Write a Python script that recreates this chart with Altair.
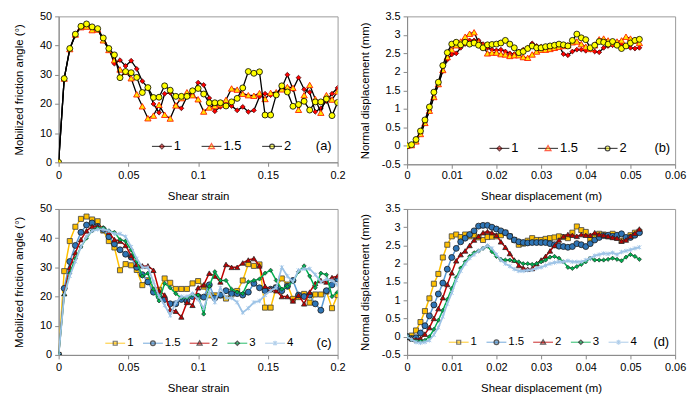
import altair as alt
import pandas as pd

# ---------------- data ----------------
STRAIN = [0.000, 0.004, 0.008, 0.012, 0.016, 0.020, 0.024, 0.028, 0.032, 0.036,
          0.040, 0.044, 0.048, 0.052, 0.056, 0.060, 0.064, 0.068, 0.072, 0.076,
          0.080, 0.084, 0.088, 0.092, 0.096, 0.100, 0.104, 0.108, 0.112, 0.116,
          0.120, 0.124, 0.128, 0.132, 0.136, 0.140, 0.144, 0.148, 0.152, 0.156,
          0.160, 0.164, 0.168, 0.172, 0.176, 0.180, 0.184, 0.188, 0.192, 0.196,
          0.200, 0.204, 0.208]
DISP = [0.000, 0.001, 0.002, 0.003, 0.004, 0.005, 0.006, 0.007, 0.008, 0.009,
        0.010, 0.011, 0.012, 0.013, 0.014, 0.015, 0.016, 0.017, 0.018, 0.019,
        0.020, 0.021, 0.022, 0.023, 0.024, 0.025, 0.026, 0.027, 0.028, 0.029,
        0.030, 0.031, 0.032, 0.033, 0.034, 0.035, 0.036, 0.037, 0.038, 0.039,
        0.040, 0.041, 0.042, 0.043, 0.044, 0.045, 0.046, 0.047, 0.048, 0.049,
        0.050, 0.051, 0.052]

NAMES_AB = ["1", "1.5", "2"]
NAMES_CD = ["1", "1.5", "2", "3", "4"]

# (a) mobilized friction angle
A_1 = [0, 28.7, 38.8, 43.5, 46.5, 47.0, 46.3, 45.5, 42.0, 39.0,
       33.8, 35.0, 33.0, 34.8, 32.0, 27.8, 25.5, 20.0, 17.0, 23.5,
       23.8, 19.5, 18.5, 22.5, 23.0, 27.3, 26.5, 22.0, 17.5, 19.0,
       19.5, 19.3, 17.8, 19.0, 17.3, 17.8, 22.5, 23.5, 23.0, 23.5,
       25.5, 30.0, 25.0, 29.0, 25.0, 24.0, 17.3, 18.5, 21.0, 23.5,
       25.5, 26.0, 25.0]
A_15 = [0, 28.7, 38.8, 43.8, 46.3, 46.5, 45.3, 45.5, 41.8, 38.5,
        35.0, 31.8, 31.0, 28.8, 23.3, 19.2, 15.1, 16.0, 19.7, 16.3,
        15.0, 19.5, 22.0, 24.0, 23.0, 21.6, 17.4, 18.8, 19.3, 19.9,
        21.4, 25.3, 24.9, 23.5, 23.0, 22.8, 23.7, 21.7, 23.8, 24.0,
        25.0, 25.8, 25.5, 18.0, 23.0, 26.5, 21.7, 17.0, 23.0, 21.5,
        24.3, 23.0, 22.0]
A_2 = [0, 28.7, 39.0, 43.9, 46.6, 47.4, 46.4, 45.8, 42.6, 39.0,
       36.8, 29.0, 31.1, 30.7, 29.1, 23.9, 25.6, 22.2, 22.3, 26.2,
       24.7, 22.6, 22.6, 22.6, 24.5, 25.3, 23.4, 20.4, 20.4, 20.4,
       19.3, 20.7, 21.9, 25.5, 31.1, 30.5, 31.0, 16.2, 16.2, 23.1,
       26.2, 24.1, 19.2, 19.8, 20.9, 17.9, 20.7, 20.7, 21.7, 16.0,
       20.5, 22.0, 21.0]

# (b) normal displacement (mm)
B_1 = [0, 0.02, 0.12, 0.33, 0.62, 0.95, 1.32, 1.65, 2.02, 2.33,
       2.47, 2.50, 2.65, 2.75, 2.85, 2.85, 2.85, 2.75, 2.65, 2.60,
       2.58, 2.60, 2.55, 2.50, 2.48, 2.55, 2.60, 2.65, 2.77, 2.70,
       2.68, 2.65, 2.68, 2.70, 2.72, 2.48, 2.45, 2.55, 2.60, 2.60,
       2.57, 2.60, 2.55, 2.53, 2.65, 2.70, 2.72, 2.75, 2.73, 2.70,
       2.65, 2.63, 2.65]
B_15 = [0, 0.02, 0.12, 0.32, 0.62, 0.95, 1.32, 1.67, 2.05, 2.40,
        2.60, 2.72, 2.82, 2.95, 3.03, 3.07, 2.80, 2.70, 2.50, 2.52,
        2.52, 2.48, 2.47, 2.43, 2.45, 2.45, 2.40, 2.38, 2.47, 2.55,
        2.60, 2.60, 2.62, 2.65, 2.68, 2.70, 2.72, 2.80, 2.82, 2.75,
        2.68, 2.62, 2.72, 2.88, 2.90, 2.85, 2.78, 2.82, 2.85, 2.95,
        2.90, 2.85, 2.78]
B_2 = [0, 0.03, 0.17, 0.40, 0.70, 1.05, 1.45, 1.72, 2.17, 2.52,
       2.75, 2.80, 2.73, 2.80, 2.75, 2.78, 2.72, 2.65, 2.73, 2.74,
       2.75, 2.78, 2.85, 2.75, 2.65, 2.52, 2.55, 2.63, 2.70, 2.65,
       2.65, 2.68, 2.70, 2.72, 2.75, 2.73, 2.70, 2.85, 3.02, 2.92,
       2.87, 2.65, 2.72, 2.82, 2.80, 2.75, 2.82, 2.72, 2.63, 2.70,
       2.78, 2.85, 2.88]

# (c) mobilized friction angle
C_1 = A_2
C_15 = [0, 22.8, 32.0, 37.5, 42.0, 44.5, 45.2, 44.0, 43.0, 40.5,
        38.0, 36.0, 34.5, 33.5, 30.0, 27.5, 25.0, 21.5, 20.0, 19.0,
        17.5, 17.5, 19.0, 18.5, 20.0, 20.0, 19.8, 24.0, 19.5, 20.5,
        22.0, 21.0, 21.0, 20.5, 21.5, 24.5, 23.0, 22.0, 22.5, 23.0,
        22.0, 23.5, 25.5, 20.5, 20.0, 20.5, 17.5, 15.3, 22.0, 24.0,
        26.0, 27.0, 27.0]
C_2 = [0, 21.0, 30.0, 35.0, 39.5, 42.5, 44.0, 44.0, 43.5, 42.0,
       39.5, 39.0, 37.5, 34.0, 31.0, 30.5, 30.5, 29.0, 22.0, 20.5,
       15.5, 15.0, 13.0, 18.0, 17.0, 23.0, 24.0, 28.0, 27.0, 25.0,
       31.0, 30.0, 30.0, 31.5, 32.5, 33.0, 30.5, 23.5, 22.5, 22.0,
       20.0, 20.0, 18.5, 20.5, 17.5, 21.5, 24.5, 25.5, 25.0, 26.5,
       27.0, 28.0, 28.0]
C_3 = [0, 20.5, 28.0, 33.0, 37.0, 40.0, 42.5, 43.5, 43.5, 42.5,
       42.0, 39.5, 39.0, 36.0, 32.0, 27.0, 28.0, 22.5, 18.5, 24.5,
       23.0, 21.0, 19.5, 19.5, 20.5, 20.5, 14.0, 23.5, 28.5, 25.5,
       25.5, 22.5, 21.5, 21.0, 25.0, 25.5, 26.0, 28.0, 29.0, 25.5,
       22.5, 23.5, 25.0, 28.5, 30.5, 27.0, 23.0, 28.0, 27.5, 20.0,
       21.5, 22.0, 22.0]
C_4 = [0, 20.5, 27.0, 32.0, 37.0, 40.5, 42.5, 43.0, 43.0, 42.5,
       41.5, 41.5, 40.5, 37.0, 33.0, 30.0, 30.0, 25.0, 20.0, 17.0,
       13.5, 18.0, 20.0, 20.0, 21.0, 19.0, 16.0, 21.5, 18.0, 23.0,
       19.5, 19.5, 18.0, 14.5, 16.0, 18.0, 18.5, 20.5, 22.0, 23.0,
       30.0, 27.0, 25.0, 29.0, 29.5, 29.5, 27.5, 25.0, 26.0, 25.5,
       24.0, 25.0, 25.0]

# (d) normal displacement (mm)
D_1 = B_2
D_15 = [0, -0.05, -0.03, 0.10, 0.30, 0.57, 0.87, 1.17, 1.47, 1.85,
        2.17, 2.42, 2.60, 2.70, 2.80, 2.90, 3.03, 3.05, 3.05, 3.00,
        2.95, 2.90, 2.85, 2.75, 2.65, 2.60, 2.58, 2.57, 2.58, 2.58,
        2.58, 2.58, 2.55, 2.52, 2.48, 2.47, 2.45, 2.47, 2.55, 2.52,
        2.47, 2.55, 2.65, 2.72, 2.77, 2.78, 2.75, 2.78, 2.82, 2.72,
        2.72, 2.78, 2.85]
D_2 = [0, -0.05, -0.08, -0.05, 0.07, 0.25, 0.50, 0.77, 1.07, 1.43,
       1.75, 2.08, 2.25, 2.35, 2.50, 2.65, 2.75, 2.85, 2.88, 2.85,
       2.78, 2.60, 2.45, 2.28, 2.10, 1.95, 1.88, 1.85, 1.87, 2.00,
       2.10, 2.20, 2.35, 2.50, 2.65, 2.75, 2.80, 2.78, 2.75, 2.80,
       2.78, 2.78, 2.85, 2.80, 2.78, 2.75, 2.72, 2.70, 2.62, 2.65,
       2.75, 2.83, 2.95]
D_3 = [0, -0.08, -0.12, -0.12, -0.10, 0.00, 0.20, 0.45, 0.72, 1.02,
       1.32, 1.62, 1.88, 2.05, 2.20, 2.30, 2.35, 2.42, 2.48, 2.33,
       2.20, 2.12, 2.10, 2.10, 2.08, 2.05, 2.00, 2.00, 1.98, 2.00,
       2.05, 2.10, 2.18, 2.20, 2.15, 2.05, 1.90, 1.87, 1.92, 1.98,
       2.05, 2.15, 2.10, 2.10, 2.10, 2.12, 2.15, 2.12, 2.08, 2.18,
       2.25, 2.20, 2.12]
D_4 = [0, -0.08, -0.15, -0.17, -0.15, -0.10, 0.05, 0.25, 0.55, 0.90,
       1.20, 1.55, 1.80, 2.00, 2.15, 2.25, 2.35, 2.42, 2.50, 2.42,
       2.25, 2.10, 2.00, 1.93, 1.85, 1.80, 1.80, 1.82, 1.83, 1.88,
       1.90, 1.95, 2.00, 2.03, 2.05, 2.05, 2.08, 2.05, 2.05, 2.05,
       2.10, 2.15, 2.22, 2.25, 2.28, 2.27, 2.30, 2.25, 2.32, 2.35,
       2.38, 2.42, 2.45]

STRAIN_TICKS = [0, 0.05, 0.1, 0.15, 0.2]
DISP_TICKS = [0, 0.01, 0.02, 0.03, 0.04, 0.05, 0.06]
ANGLE_TICKS = [0, 10, 20, 30, 40, 50]
NORMAL_TICKS = [-0.5, 0, 0.5, 1, 1.5, 2, 2.5, 3, 3.5]

T_STRAIN = "Shear strain"
T_DISP = "Shear displacement (m)"
T_ANGLE = "Mobilized friction angle (°)"
T_NORMAL = "Normal displacement (mm)"

# ---------------- styles ----------------
FONT = "Liberation Sans"
AXIS_GRAY = "#898989"
ASTER = "M-1,-1L1,1M-1,1L1,-1M0,-1.2L0,1.2"

STYLE_AB = dict(
    line=["#000000", "#000000", "#000000"],
    lw=[1.3, 1.3, 1.3],
    shape=["diamond", "triangle-up", "circle"],
    size=[24, 40, 36],
    fill=["#FF0000", "#FFE600", "#FFFF00"],
    edge=["#3a0000", "#FF2000", "#000000"],
    ew=[0.7, 0.9, 0.8],
    filled=[True, True, True],
    lg_marker=[
        "M-1,0L-1,0M1,0L1,0M-0.24,0L0,-0.24L0.24,0L0,0.24Z",
        "M-1,0L-1,0M1,0L1,0M0,-0.3L0.3,0.22L-0.3,0.22Z",
        "M-1,0L-1,0M1,0L1,0M0.24,0A0.24,0.24 0 1 1 -0.24,0A0.24,0.24 0 1 1 0.24,0Z",
    ],
    lg_edge=["#3a0000", "#FF2000", "#000000"],
)
STYLE_CD = dict(
    line=["#FFC000", "#5B9BD5", "#C00000", "#00B050", "#9DC3E6"],
    lw=[1.5, 1.5, 1.5, 1.5, 1.8],
    shape=["square", "circle", "triangle-up", "diamond", ASTER],
    size=[26, 36, 28, 18, 14],
    fill=["#FFC000", "#2E75B6", "#C00000", "#00B050", "transparent"],
    edge=["#404040", "#1a1a1a", "#262626", "#1a1a1a", "#9DC3E6"],
    ew=[0.8, 0.8, 0.8, 0.6, 0.9],
    filled=[True, True, True, True, False],
    lg_marker=[
        "M-1,0L-1,0M1,0L1,0M-0.2,-0.2L0.2,-0.2L0.2,0.2L-0.2,0.2Z",
        "M-1,0L-1,0M1,0L1,0M0.24,0A0.24,0.24 0 1 1 -0.24,0A0.24,0.24 0 1 1 0.24,0Z",
        "M-1,0L-1,0M1,0L1,0M0,-0.26L0.26,0.2L-0.26,0.2Z",
        "M-1,0L-1,0M1,0L1,0M-0.22,0L0,-0.22L0.22,0L0,0.22Z",
        "M-1,0L-1,0M1,0L1,0M-0.18,-0.18L0.18,0.18M-0.18,0.18L0.18,-0.18M0,-0.24L0,0.24",
    ],
    lg_edge=["#404040", "#1a1a1a", "#262626", "#1a1a1a", "#9DC3E6"],
)
LINE_PATH = "M-1,0L1,0"

LABEL_EXPR = ("datum.value < 0 ? '-' + format(-datum.value, '~g') : "
              "format(datum.value, '~g')")


def panel(xvals, names, values, xdom, xticks, xtitle, ydom, yticks, ytitle,
          st, tag, W, H, ytp, xlp, xtp, lx, ly, lfs, lcp, tagx, tagy):
    rows = []
    for name, vals in zip(names, values):
        for xv, yv in zip(xvals, vals):
            rows.append({"x": xv, "y": yv, "s": name})
    df = pd.DataFrame(rows)

    xenc = alt.X("x:Q", scale=alt.Scale(domain=xdom, nice=False, zero=False),
                 axis=alt.Axis(values=xticks, title=xtitle, labelExpr=LABEL_EXPR,
                               labelFlush=False, labelOverlap=False,
                               labelPadding=xlp, titlePadding=xtp))
    yenc = alt.Y("y:Q", scale=alt.Scale(domain=ydom, nice=False, zero=False),
                 axis=alt.Axis(values=yticks, title=ytitle, labelExpr=LABEL_EXPR,
                               labelOverlap=False, labelPadding=3,
                               titlePadding=ytp))
    base = alt.Chart(df)
    layers = []
    for k, name in enumerate(names):
        sub = base.transform_filter(alt.datum.s == name)
        layers.append(sub.mark_line(clip=True, color=st["line"][k],
                                    strokeWidth=st["lw"][k]).encode(x=xenc, y=yenc))
        layers.append(sub.mark_point(clip=True, filled=st["filled"][k],
                                     shape=st["shape"][k], size=st["size"][k],
                                     fill=st["fill"][k], stroke=st["edge"][k],
                                     strokeWidth=st["ew"][k], opacity=1
                                     ).encode(x=xenc, y=yenc))

    leg_df = pd.DataFrame({"lgl": names, "lgm": names})

    def leg(color):
        return alt.Legend(orient="none", legendX=lx, legendY=ly,
                          direction="horizontal", title=None, padding=0,
                          symbolSize=400, symbolStrokeWidth=1.2,
                          labelFont=FONT, labelFontSize=lfs, labelColor=color,
                          labelOffset=1, columnPadding=lcp, symbolOffset=0,
                          labelLimit=0)

    n = len(names)
    leg_line = alt.Chart(leg_df).transform_filter("false").mark_point(
        filled=False).encode(
        stroke=alt.Stroke("lgl:N", scale=alt.Scale(domain=names, range=st["line"]),
                          legend=leg("#000000")),
        shape=alt.Shape("lgl:N", scale=alt.Scale(domain=names, range=[LINE_PATH] * n),
                        legend=leg("#000000")),
    )
    leg_mark = alt.Chart(leg_df).transform_filter("false").mark_point(
        filled=True).encode(
        fill=alt.Fill("lgm:N", scale=alt.Scale(domain=names, range=st["fill"]),
                      legend=leg("transparent")),
        stroke=alt.Stroke("lgm:N", scale=alt.Scale(domain=names, range=st["lg_edge"]),
                          legend=leg("transparent")),
        shape=alt.Shape("lgm:N", scale=alt.Scale(domain=names, range=st["lg_marker"]),
                        legend=leg("transparent")),
    )
    tag_layer = alt.Chart(pd.DataFrame({"t": [tag]})).mark_text(
        align="right", baseline="middle", font=FONT, fontSize=13, color="#000"
    ).encode(x=alt.value(tagx), y=alt.value(tagy), text="t:N")

    return alt.layer(*layers, leg_line, leg_mark, tag_layer).resolve_scale(
        stroke="independent", shape="independent", fill="independent"
    ).properties(width=W, height=H)


pa = panel(STRAIN, NAMES_AB, [A_1, A_15, A_2], [0, 0.2], STRAIN_TICKS, T_STRAIN,
           [0, 50], ANGLE_TICKS, T_ANGLE, STYLE_AB, "(a)", 281, 147,
           ytp=15, xlp=3, xtp=10, lx=93, ly=120, lfs=13, lcp=17, tagx=275, tagy=131)
pb = panel(DISP, NAMES_AB, [B_1, B_15, B_2], [0, 0.06], DISP_TICKS, T_DISP,
           [-0.5, 3.5], NORMAL_TICKS, T_NORMAL, STYLE_AB, "(b)", 270, 149,
           ytp=11, xlp=1, xtp=10, lx=82, ly=122, lfs=13, lcp=16, tagx=265, tagy=133)
pc = panel(STRAIN, NAMES_CD, [C_1, C_15, C_2, C_3, C_4], [0, 0.2], STRAIN_TICKS,
           T_STRAIN, [0, 50], ANGLE_TICKS, T_ANGLE, STYLE_CD, "(c)", 281, 147,
           ytp=15, xlp=3, xtp=10, lx=46, ly=124, lfs=11.5, lcp=6, tagx=275, tagy=135)
pd_ = panel(DISP, NAMES_CD, [D_1, D_15, D_2, D_3, D_4], [0, 0.06], DISP_TICKS,
            T_DISP, [-0.5, 3.5], NORMAL_TICKS, T_NORMAL, STYLE_CD, "(d)", 270, 147,
            ytp=11, xlp=3, xtp=10, lx=41, ly=123, lfs=11.5, lcp=6, tagx=264, tagy=134)

chart = alt.vconcat(
    alt.hconcat(pa, pb, spacing=12),
    alt.hconcat(pc, pd_, spacing=12),
    spacing=0,
).properties(
    padding={"left": 5, "top": 0, "right": 5, "bottom": 5},
    background="white",
).configure_view(
    stroke="#9a9a9a", strokeWidth=1
).configure_axis(
    grid=False, domainColor=AXIS_GRAY, tickColor=AXIS_GRAY, tickSize=4,
    labelFont=FONT, labelFontSize=11, labelColor="#000000",
    titleFont=FONT, titleFontSize=11.5, titleFontWeight="normal",
    titleColor="#000000",
).configure_text(font=FONT)

chart.save("out.html", embed_options={"renderer": "svg", "actions": False})
